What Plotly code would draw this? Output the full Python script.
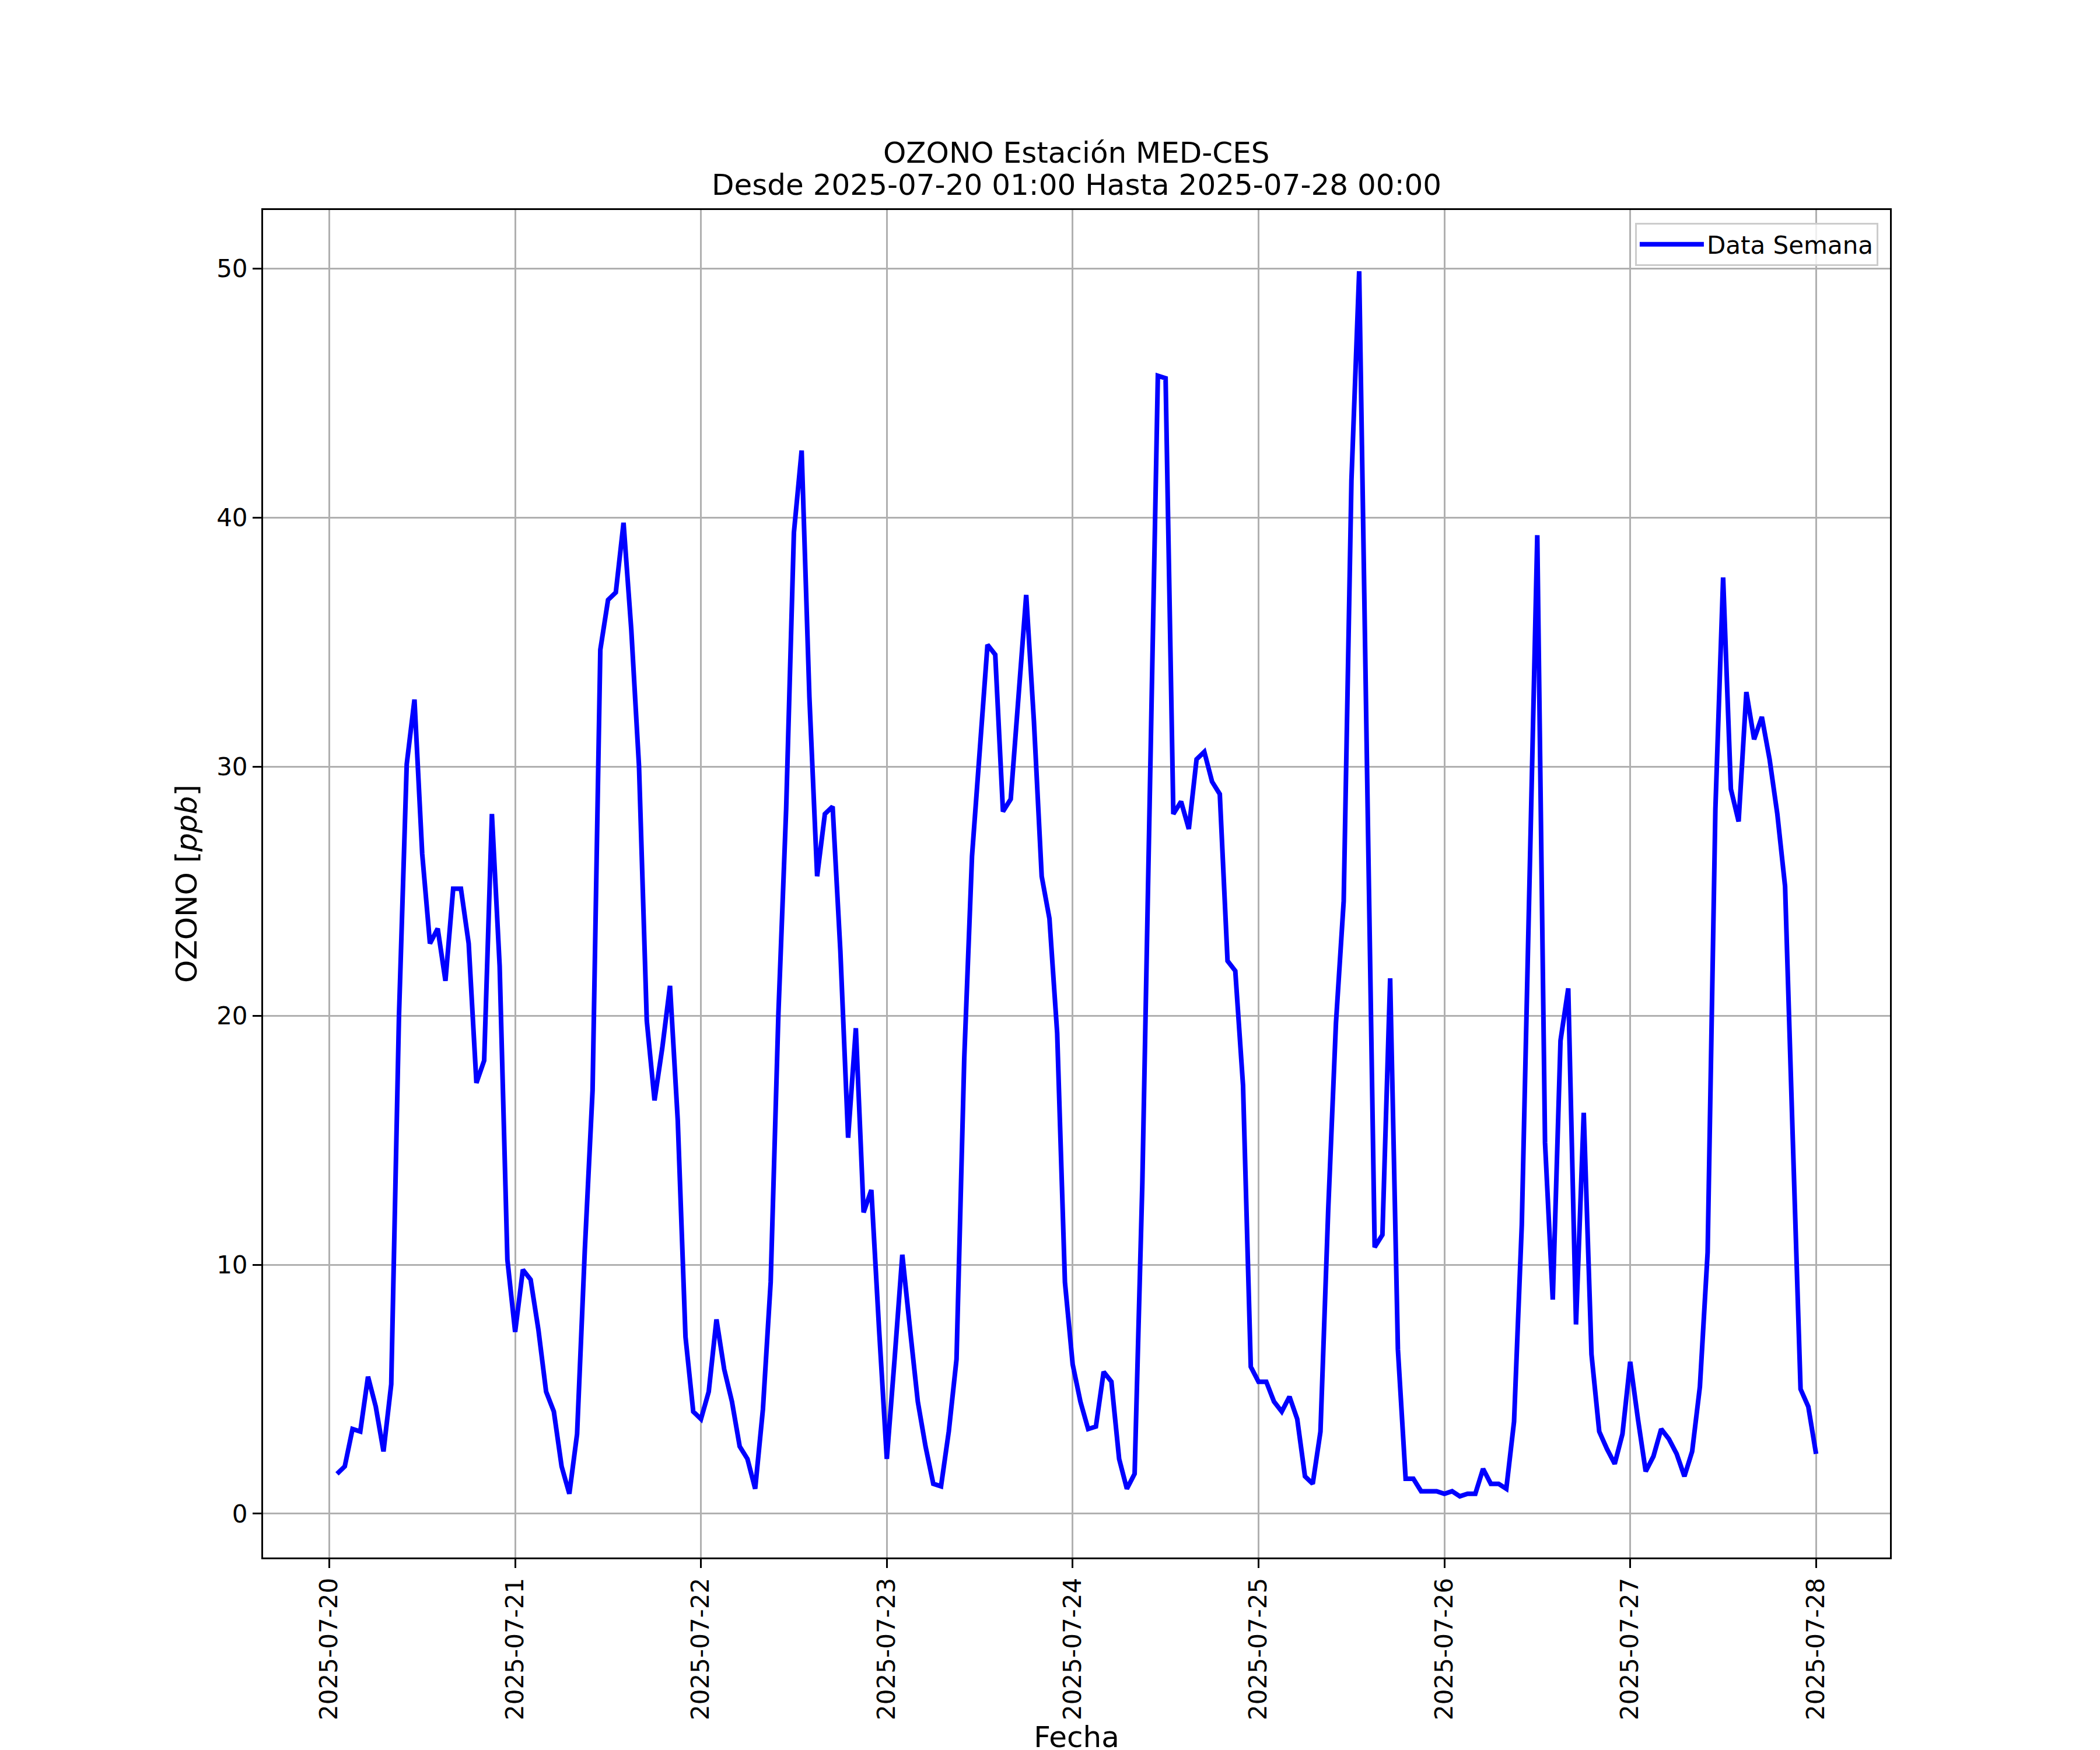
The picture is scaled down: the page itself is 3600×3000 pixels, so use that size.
import pandas as pd
import plotly.graph_objects as go

# Hourly OZONO values (ppb), 2025-07-20 01:00 .. 2025-07-28 00:00
day_20 = [1.6, 1.9, 3.4, 3.3, 5.5, 4.3, 2.5, 5.2, 20.0, 30.1, 32.7, 26.5,
          22.9, 23.5, 21.4, 25.1, 25.1, 22.9, 17.3, 18.2, 28.1, 22.0, 10.2, 7.3]
day_21 = [9.8, 9.4, 7.4, 4.9, 4.1, 1.9, 0.8, 3.2, 10.6, 17.0, 34.7, 36.7,
          37.0, 39.8, 35.5, 30.0, 19.8, 16.6, 18.7, 21.2, 15.8, 7.1, 4.1, 3.8]
day_22 = [4.9, 7.8, 5.8, 4.5, 2.7, 2.2, 1.0, 4.2, 9.3, 20.1, 28.3, 39.4,
          42.7, 32.8, 25.6, 28.1, 28.4, 22.6, 15.1, 19.5, 12.1, 13.0, 7.4, 2.2]
day_23 = [6.2, 10.4, 7.4, 4.5, 2.7, 1.2, 1.1, 3.3, 6.2, 18.3, 26.4, 30.8,
          34.9, 34.5, 28.2, 28.7, 32.6, 36.9, 31.8, 25.6, 23.9, 19.3, 9.3, 6.0]
day_24 = [4.5, 3.4, 3.5, 5.7, 5.3, 2.2, 1.0, 1.6, 13.3, 28.5, 45.7, 45.6,
          28.1, 28.6, 27.5, 30.3, 30.6, 29.4, 28.9, 22.2, 21.8, 17.2, 5.9, 5.3]
day_25 = [5.3, 4.5, 4.1, 4.7, 3.8, 1.5, 1.2, 3.3, 12.2, 19.7, 24.6, 41.5,
          49.9, 30.2, 10.7, 11.2, 21.5, 6.6, 1.4, 1.4, 0.9, 0.9, 0.9, 0.8]
day_26 = [0.9, 0.7, 0.8, 0.8, 1.8, 1.2, 1.2, 1.0, 3.7, 11.6, 26.0, 39.3,
          14.9, 8.6, 19.0, 21.1, 7.6, 16.1, 6.4, 3.3, 2.6, 2.0, 3.2, 6.1]
day_27 = [3.8, 1.7, 2.3, 3.4, 3.0, 2.4, 1.5, 2.5, 5.1, 10.5, 28.3, 37.6,
          29.1, 27.8, 33.0, 31.1, 32.0, 30.3, 28.1, 25.2, 15.0, 5.0, 4.3, 2.4]

start_time = "2025-07-20 01:00"
tick_dates = ["2025-07-20", "2025-07-21", "2025-07-22", "2025-07-23", "2025-07-24",
              "2025-07-25", "2025-07-26", "2025-07-27", "2025-07-28"]
y_ticks = [0, 10, 20, 30, 40, 50]
title_line1 = "OZONO Estación MED-CES"
title_line2 = "Desde 2025-07-20 01:00 Hasta 2025-07-28 00:00"

values = day_20 + day_21 + day_22 + day_23 + day_24 + day_25 + day_26 + day_27
times = pd.date_range(start_time, periods=len(values), freq="h")

# matplotlib-like 5% auto margins
t0, t1 = times[0], times[-1]
pad_t = (t1 - t0) * 0.05
x_range = [t0 - pad_t, t1 + pad_t]
vmin, vmax = min(values), max(values)
pad_v = (vmax - vmin) * 0.05
y_range = [vmin - pad_v, vmax + pad_v]

FONT = "DejaVu Sans"
W, H = 3600, 3000
# the page body adds an 8px offset; margins compensate for it
ML, MR, MT, MB = 443, 368, 352, 338
PLOT_H = H - MT - MB


def paper_y(screen_y):
    return (H - MB - (screen_y - 8)) / PLOT_H


fig = go.Figure()
fig.add_trace(go.Scatter(
    x=times, y=values, mode="lines", name="Data Semana",
    line=dict(color="#0000ff", width=8),
))

fig.update_layout(
    width=W, height=H,
    margin=dict(l=ML, r=MR, t=MT, b=MB, autoexpand=False),
    paper_bgcolor="white", plot_bgcolor="white",
    font=dict(family=FONT, color="black", size=42),
    showlegend=True,
    legend=dict(
        x=0.9928, y=0.9905, xanchor="right", yanchor="top",
        bgcolor="rgba(255,255,255,0.8)", bordercolor="#cccccc", borderwidth=3,
        font=dict(family=FONT, size=42, color="black"),
        itemwidth=110,
    ),
    annotations=[
        dict(text=title_line1, xref="paper", yref="paper", x=0.5, y=paper_y(262),
             xanchor="center", yanchor="middle", showarrow=False,
             font=dict(family=FONT, size=50, color="black")),
        dict(text=title_line2, xref="paper", yref="paper", x=0.5, y=paper_y(317),
             xanchor="center", yanchor="middle", showarrow=False,
             font=dict(family=FONT, size=50, color="black")),
    ],
)

fig.update_xaxes(
    type="date", range=x_range,
    tickmode="array", tickvals=tick_dates, ticktext=tick_dates,
    tickangle=-90,
    ticks="outside", ticklen=15, tickwidth=3, tickcolor="black",
    tickfont=dict(family=FONT, size=42, color="black"),
    showgrid=True, gridcolor="#b0b0b0", gridwidth=3,
    showline=True, linecolor="black", linewidth=3, mirror=True,
    zeroline=False,
    title=dict(text="Fecha", font=dict(family=FONT, size=50, color="black"), standoff=6),
    automargin=False,
)
fig.update_yaxes(
    range=y_range,
    tickmode="array", tickvals=y_ticks,
    ticks="outside", ticklen=15, tickwidth=3, tickcolor="black",
    tickfont=dict(family=FONT, size=42, color="black"),
    showgrid=True, gridcolor="#b0b0b0", gridwidth=3,
    showline=True, linecolor="black", linewidth=3, mirror=True,
    zeroline=False,
    title=dict(text="OZONO [<i>ppb</i>]", font=dict(family=FONT, size=50, color="black"), standoff=18),
    automargin=False,
)

fig.write_html("out.html")
